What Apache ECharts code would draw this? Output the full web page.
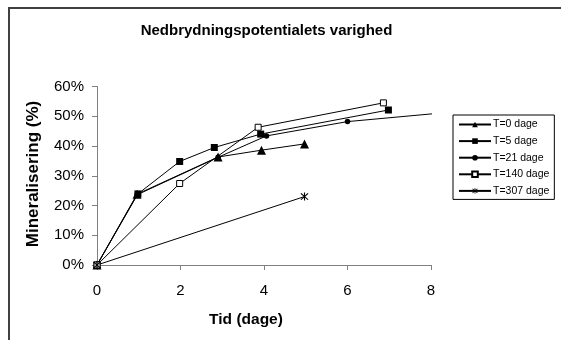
<!DOCTYPE html>
<html>
<head>
<meta charset="utf-8">
<script src="https://cdn.jsdelivr.net/npm/echarts@6/dist/echarts.min.js"></script>
<style>
  html, body { margin: 0; padding: 0; background: #fff; }
  #chart { width: 561px; height: 340px; }
</style>
</head>
<body>
<div id="chart"></div>
<script>
// Mineralisering (%) over tid (dage) for prøver med forskellig alder T
const seriesNames = ['T=0 dage', 'T=5 dage', 'T=21 dage', 'T=140 dage', 'T=307 dage'];

const tidT0   = [0, 0.96, 2.9, 3.94, 4.97];
const minT0   = [0, 23.8, 36.3, 38.6, 40.7];

const tidT5   = [0, 0.98, 1.98, 2.81, 3.92, 6.98];
const minT5   = [0, 23.9, 34.8, 39.5, 44.0, 52.1];

const tidT21  = [0, 0.96, 2.9, 4.06, 6.0, 14];
const minT21  = [0, 23.6, 36.2, 43.4, 48.2, 58.5];

const tidT140 = [0, 1.98, 3.86, 6.86];
const minT140 = [0, 27.4, 46.3, 54.5];

const tidT307 = [0, 4.97];
const minT307 = [0, 23.0];

const xTicks = [0, 2, 4, 6, 8];
const yTicks = [0, 10, 20, 30, 40, 50, 60];

const pairs = (xs, ys) => xs.map((x, i) => [x, ys[i]]);

// asterisk-like marker: vertical bar plus two diagonals
const asterisk = 'path://M4.4,0 H5.6 V10 H4.4 Z M0.6,1.5 L1.5,0.6 L9.4,8.5 L8.5,9.4 Z M8.5,0.6 L9.4,1.5 L1.5,9.4 L0.6,8.5 Z';

const FONT = '"Liberation Sans", Arial, sans-serif';

const mk = (name, data, symbol, size, fill) => ({
  name: name,
  type: 'line',
  data: data,
  symbol: symbol,
  symbolSize: size,
  showAllSymbol: true,
  clip: true,
  lineStyle: { color: '#000', width: 1 },
  itemStyle: { color: fill, borderColor: '#000', borderWidth: fill === '#fff' ? 1 : 0 },
  emphasis: { disabled: true },
  animation: false
});

const chart = echarts.init(document.getElementById('chart'), null, { renderer: 'canvas' });

chart.setOption({
  backgroundColor: '#fff',
  animation: false,
  grid: { left: 97, right: 130, top: 86.5, bottom: 75, containLabel: false },
  xAxis: {
    type: 'value',
    min: xTicks[0], max: xTicks[xTicks.length - 1], interval: 2,
    axisLine: { show: true, lineStyle: { color: '#808080', width: 1 } },
    axisTick: { show: true, length: 5, inside: false, lineStyle: { color: '#808080' } },
    splitLine: { show: false },
    axisLabel: { color: '#000', fontFamily: FONT, fontSize: 15, margin: 18 }
  },
  yAxis: {
    type: 'value',
    min: yTicks[0], max: yTicks[yTicks.length - 1], interval: 10,
    axisLine: { show: true, lineStyle: { color: '#808080', width: 1 } },
    axisTick: { show: true, length: 5, inside: false, lineStyle: { color: '#808080' } },
    splitLine: { show: false },
    axisLabel: { color: '#000', fontFamily: FONT, fontSize: 15, margin: 13, formatter: '{value}%' }
  },
  legend: {
    orient: 'vertical',
    left: 453, top: 115,
    padding: [4, 5, 3, 5],
    itemGap: 5.6,
    itemWidth: 32,
    itemHeight: 7,
    borderColor: '#000', borderWidth: 1,
    backgroundColor: '#fff',
    textStyle: { color: '#000', fontFamily: FONT, fontSize: 10.5, lineHeight: 11, padding: [0, 0, 0, -3] },
    data: seriesNames
  },
  graphic: [
    { type: 'rect', shape: { x: 9, y: 8, width: 620, height: 400 },
      style: { fill: 'none', stroke: '#404040', lineWidth: 2 }, silent: true, z: 0 },
    { type: 'text', x: 266.5, y: 31,
      style: { text: 'Nedbrydningspotentialets varighed', font: 'bold 15px ' + FONT,
               fill: '#000', textAlign: 'center', textVerticalAlign: 'middle' } },
    { type: 'text', x: 246, y: 320,
      style: { text: 'Tid (dage)', font: 'bold 15.5px ' + FONT,
               fill: '#000', textAlign: 'center', textVerticalAlign: 'middle' } },
    { type: 'text', x: 33, y: 174, rotation: Math.PI / 2,
      style: { text: 'Mineralisering (%)', font: 'bold 17px ' + FONT,
               fill: '#000', textAlign: 'center', textVerticalAlign: 'middle' } }
  ],
  series: [
    mk(seriesNames[0], pairs(tidT0, minT0), 'triangle', 9, '#000'),
    mk(seriesNames[1], pairs(tidT5, minT5), 'rect', 7, '#000'),
    mk(seriesNames[2], pairs(tidT21, minT21), 'circle', 5.5, '#000'),
    mk(seriesNames[3], pairs(tidT140, minT140), 'rect', 6, '#fff'),
    mk(seriesNames[4], pairs(tidT307, minT307), asterisk, 8, '#000')
  ]
});
</script>
</body>
</html>
